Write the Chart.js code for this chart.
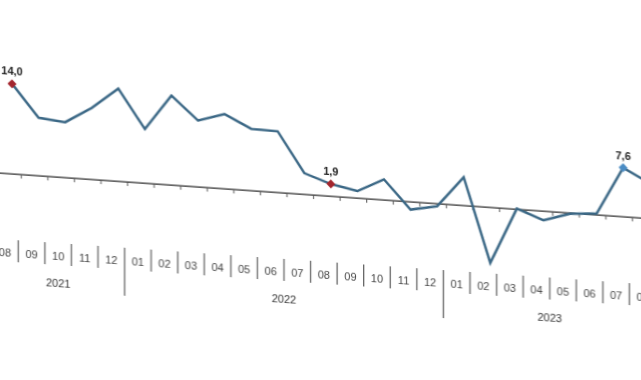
<!DOCTYPE html>
<html>
<head>
<meta charset="utf-8">
<script src="https://cdn.jsdelivr.net/npm/chart.js@4.4.1/dist/chart.umd.min.js"></script>
<style>
  html, body { margin: 0; padding: 0; background: #fff; }
  #wrap { position: relative; width: 641px; height: 380px; overflow: hidden; background: #fff; }
  #inner { position: absolute; left: -40px; top: 0; width: 720px; height: 380px;
           transform: skewY(4.01deg); transform-origin: 40px 0; }
</style>
</head>
<body>
<div id="wrap"><div id="inner"><canvas id="c" width="720" height="380"></canvas></div></div>
<script>
const monthLabels = ['08','09','10','11','12','01','02','03','04','05','06','07','08','09','10','11','12','01','02','03','04','05','06','07','08'];
const yearLabels = ['2021','2022','2023'];
const values = [14.0, 9.0, 8.6, 11.1, 14.4, 8.4, 13.9, 10.3, 11.6, 9.6, 9.5, 3.3, 1.9, 1.1, 3.2, -1.2, -0.4, 4.4, -8.6, 0.1, -1.4, -0.1, 0.2, 7.6, 5.5];
const highlighted = [0, 12, 23];
const markerColors = ['#a3262e', '#a3262e', '#4a8cc4'];

// year group centres derived from where months restart at '01'
const yearStarts = [0];
monthLabels.forEach((m, i) => { if (i > 0 && m === '01') yearStarts.push(i); });
const yearCenters = yearStarts.map((s, k) => {
  const e = (k + 1 < yearStarts.length ? yearStarts[k + 1] : monthLabels.length) - 1;
  return (s + e) / 2;
});

const FONT = 'Liberation Sans, Arial, sans-serif';
const LABEL_SHIFT = -7;

const decor = {
  id: 'decor',
  beforeDatasetsDraw(chart) {
    const ctx = chart.ctx, xs = chart.scales.x, ys = chart.scales.y;
    const y0 = ys.getPixelForValue(0);
    ctx.save();
    ctx.strokeStyle = '#2e2e2e';
    ctx.lineWidth = 1.3;
    ctx.beginPath();
    ctx.moveTo(0, y0);
    ctx.lineTo(chart.width, y0);
    ctx.stroke();
    ctx.lineWidth = 1;
    ctx.strokeStyle = '#555';
    for (let i = -1; i < monthLabels.length; i++) {
      const px = xs.getPixelForValue(i + 0.5) - 4;
      ctx.beginPath();
      ctx.moveTo(px, y0);
      ctx.lineTo(px, y0 + 4);
      ctx.stroke();
    }
    ctx.restore();
  },
  afterDraw(chart) {
    const ctx = chart.ctx, xs = chart.scales.x;
    ctx.save();
    ctx.strokeStyle = '#5a5a5a';
    ctx.lineWidth = 1.2;
    for (let i = 0; i < monthLabels.length - 1; i++) {
      const px = xs.getPixelForValue(i + 0.5) + LABEL_SHIFT;
      const isYear = monthLabels[i + 1] === '01';
      ctx.beginPath();
      ctx.moveTo(px, 239);
      ctx.lineTo(px, isYear ? 287 : 261);
      ctx.stroke();
    }
    const meta = chart.getDatasetMeta(0);
    ctx.fillStyle = '#222';
    ctx.font = 'bold 11px ' + FONT;
    ctx.textAlign = 'center';
    ctx.textBaseline = 'bottom';
    highlighted.forEach(i => {
      const el = meta.data[i];
      const txt = values[i].toFixed(1).replace('.', ',');
      ctx.fillText(txt, el.x, el.y - 6);
    });
    ctx.restore();
  }
};

new Chart(document.getElementById('c'), {
  type: 'line',
  data: {
    datasets: [{
      data: values.map((v, i) => ({ x: i, y: v })),
      borderColor: '#3a6785',
      borderWidth: 2.5,
      tension: 0,
      pointStyle: 'rectRot',
      pointRadius: ctx => highlighted.includes(ctx.dataIndex) ? 4.5 : 0,
      pointBackgroundColor: ctx => {
        const k = highlighted.indexOf(ctx.dataIndex);
        return k >= 0 ? markerColors[k] : 'transparent';
      },
      pointBorderWidth: 0
    }]
  },
  options: {
    responsive: false,
    animation: false,
    layout: { padding: { left: 38.7, right: 17.03, top: 70, bottom: 0 } },
    plugins: { legend: { display: false }, tooltip: { enabled: false } },
    scales: {
      x: {
        type: 'linear', position: 'bottom', min: -0.5, max: 24.5,
        afterBuildTicks: s => { s.ticks = monthLabels.map((_, i) => ({ value: i })); },
        afterFit: s => { s.height = 30; },
        grid: { display: false, drawTicks: false },
        border: { display: false },
        ticks: {
          autoSkip: false, maxRotation: 0, minRotation: 0, padding: 9, labelOffset: LABEL_SHIFT,
          color: '#444', font: { family: FONT, size: 11 },
          callback: v => monthLabels[v]
        }
      },
      x2: {
        type: 'linear', position: 'bottom', min: -0.5, max: 24.5,
        afterBuildTicks: s => { s.ticks = yearCenters.map(v => ({ value: v })); },
        afterFit: s => { s.height = 112.5; },
        grid: { display: false, drawTicks: false },
        border: { display: false },
        ticks: {
          autoSkip: false, maxRotation: 0, minRotation: 0, padding: 6, labelOffset: LABEL_SHIFT,
          color: '#333', font: { family: FONT, size: 11 },
          callback: (v, i) => yearLabels[i]
        }
      },
      y: { display: false, min: -10, max: 16 }
    }
  },
  plugins: [decor]
});
</script>
</body>
</html>
